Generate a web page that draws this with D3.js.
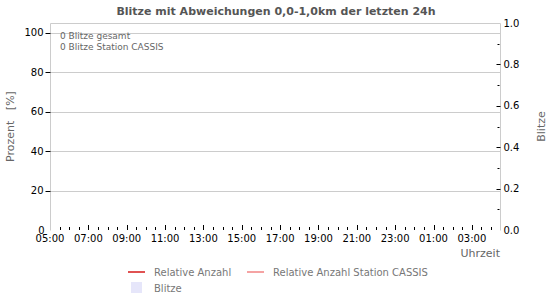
<!DOCTYPE html>
<html>
<head>
<meta charset="utf-8">
<script src="https://cdn.jsdelivr.net/npm/d3@7"></script>
<style>
  body { margin: 0; background: #fff; }
  svg { display: block; font-family: "DejaVu Sans", Verdana, sans-serif; }
</style>
</head>
<body>
<div id="chart"></div>
<script>
// time window (UTC, so the labels stay fixed)
const timeStart = new Date("2024-01-01T05:00:00Z")
const timeEnd = new Date("2024-01-02T04:28:00Z")

// series: no strikes in the window, so all empty
const relAnzahl = []          // [{t, v}] percent
const relAnzahlStation = []   // [{t, v}] percent
const blitze = []             // [{t, v}] count

const leftTicks = [0, 20, 40, 60, 80, 100]
const rightMajor = [0, 0.2, 0.4, 0.6, 0.8, 1.0]
const rightMinor = [0.1, 0.3, 0.5, 0.7, 0.9]

const infoLines = ["0 Blitze gesamt", "0 Blitze Station CASSIS"]
const legendItems = [
  { label: "Relative Anzahl", color: "#e05252", type: "line" },
  { label: "Relative Anzahl Station CASSIS", color: "#f5a3a3", type: "line" },
  { label: "Blitze", color: "#e6e6fa", type: "rect" }
]

const width = 550, height = 300
const margin = { top: 23, right: 50, bottom: 70, left: 50 }
const grid = "#cccccc"

const svg = d3.select("#chart").append("svg")
  .attr("width", width)
  .attr("height", height)

const x = d3.scaleUtc()
  .domain([timeStart, timeEnd])
  .range([margin.left, width - margin.right])

const yL = d3.scaleLinear()
  .domain([0, 105])
  .range([height - margin.bottom, margin.top])

const yR = d3.scaleLinear()
  .domain([0, 1])
  .range([height - margin.bottom, margin.top])

// title
svg.append("text")
  .attr("x", 276)
  .attr("y", 15)
  .attr("text-anchor", "middle")
  .attr("fill", "#555")
  .style("font-size", "11px")
  .style("font-weight", "bold")
  .text("Blitze mit Abweichungen 0,0-1,0km der letzten 24h")

// gridlines
svg.append("g")
  .selectAll("line")
  .data(leftTicks.filter(d => d > 0))
  .enter().append("line")
    .attr("x1", margin.left)
    .attr("x2", width - margin.right)
    .attr("y1", d => Math.round(yL(d)) + 0.5)
    .attr("y2", d => Math.round(yL(d)) + 0.5)
    .attr("stroke", grid)

// frame: top, left, right
const frameTop = margin.top + 0.5
const frameBottom = height - margin.bottom + 0.5
svg.append("path")
  .attr("d", `M${margin.left + 0.5},${frameBottom}V${frameTop}H${width - margin.right + 0.5}V${frameBottom}`)
  .attr("fill", "none")
  .attr("stroke", grid)

// bars (Blitze) – none
svg.append("g")
  .selectAll("rect")
  .data(blitze)
  .enter().append("rect")
    .attr("x", d => x(d.t) - 2)
    .attr("width", 4)
    .attr("y", d => yR(d.v))
    .attr("height", d => yR(0) - yR(d.v))
    .attr("fill", "#e6e6fa")

// lines – none
const line = d3.line().x(d => x(d.t)).y(d => yL(d.v))
svg.append("path").datum(relAnzahl)
  .attr("fill", "none").attr("stroke", legendItems[0].color).attr("stroke-width", 2)
  .attr("d", d => d.length ? line(d) : null)
svg.append("path").datum(relAnzahlStation)
  .attr("fill", "none").attr("stroke", legendItems[1].color).attr("stroke-width", 2)
  .attr("d", d => d.length ? line(d) : null)

// left axis
const gl = svg.append("g").attr("transform", `translate(${margin.left + 0.5},0)`)
gl.selectAll("line")
  .data(leftTicks.filter(d => d > 0))
  .enter().append("line")
    .attr("x1", -5).attr("x2", 0)
    .attr("y1", d => Math.round(yL(d)) + 0.5)
    .attr("y2", d => Math.round(yL(d)) + 0.5)
    .attr("stroke", "#000")
gl.selectAll("text")
  .data(leftTicks)
  .enter().append("text")
    .attr("x", d => d === 0 ? -6 : -7)
    .attr("y", d => yL(d) + 3.5)
    .attr("text-anchor", "end")
    .attr("fill", "#000")
    .style("font-size", "10px")
    .text(d => d)

// right axis
const gr = svg.append("g").attr("transform", `translate(${width - margin.right + 0.5},0)`)
gr.selectAll("line.maj")
  .data(rightMajor.filter(d => d > 0 && d < 1))
  .enter().append("line")
    .attr("x1", -4).attr("x2", 0)
    .attr("y1", d => Math.round(yR(d)) + 0.5)
    .attr("y2", d => Math.round(yR(d)) + 0.5)
    .attr("stroke", "#000")
gr.selectAll("line.min")
  .data(rightMinor)
  .enter().append("line")
    .attr("x1", -3).attr("x2", -1)
    .attr("y1", d => Math.round(yR(d)) + 0.5)
    .attr("y2", d => Math.round(yR(d)) + 0.5)
    .attr("stroke", "#000")
gr.selectAll("text")
  .data(rightMajor)
  .enter().append("text")
    .attr("x", 3)
    .attr("y", d => yR(d) + 3.5)
    .attr("fill", "#000")
    .style("font-size", "10px")
    .text(d => d.toFixed(1))

// x axis ticks (inside, pointing up)
const xb = height - margin.bottom
const isLabelHour = d => d.getUTCMinutes() === 0 && d.getUTCHours() % 2 === 1
const minorTicks = x.ticks(d3.utcMinute.every(30)).filter(d => +d > +timeStart)
svg.append("g")
  .selectAll("line")
  .data(minorTicks)
  .enter().append("line")
    .attr("x1", d => Math.round(x(d)) + 0.5)
    .attr("x2", d => Math.round(x(d)) + 0.5)
    .attr("y1", xb)
    .attr("y2", d => isLabelHour(d) ? xb - 5 : xb - 3)
    .attr("stroke", "#000")

const fmt = d3.utcFormat("%H:%M")
svg.append("g")
  .selectAll("text")
  .data(x.ticks(d3.utcHour.every(1)).filter(isLabelHour))
  .enter().append("text")
    .attr("x", d => x(d))
    .attr("y", xb + 12)
    .attr("text-anchor", "middle")
    .attr("fill", "#000")
    .style("font-size", "10px")
    .text(fmt)

// axis titles
svg.append("text")
  .attr("x", width - margin.right)
  .attr("y", 257)
  .attr("text-anchor", "end")
  .attr("fill", "#666")
  .style("font-size", "11px")
  .text("Uhrzeit")

svg.append("text")
  .attr("transform", `translate(14,${(margin.top + xb) / 2}) rotate(-90)`)
  .attr("text-anchor", "middle")
  .attr("fill", "#666")
  .style("font-size", "11px")
  .style("white-space", "pre")
  .text("Prozent   [%]")

svg.append("text")
  .attr("transform", `translate(545,${(margin.top + xb) / 2}) rotate(-90)`)
  .attr("text-anchor", "middle")
  .attr("fill", "#666")
  .style("font-size", "11px")
  .text("Blitze")

// info text
svg.append("g")
  .selectAll("text")
  .data(infoLines)
  .enter().append("text")
    .attr("x", 60)
    .attr("y", (d, i) => 39 + i * 11)
    .attr("fill", "#666")
    .style("font-size", "9px")
    .text(d => d)

// legend
const legPos = [[128, 272], [247, 272], [128, 288]]
const leg = svg.append("g")
  .selectAll("g")
  .data(legendItems)
  .enter().append("g")
    .attr("transform", (d, i) => `translate(${legPos[i][0]},${legPos[i][1]})`)
leg.filter(d => d.type === "line").append("line")
  .attr("x1", 0).attr("x2", 17)
  .attr("stroke", d => d.color)
  .attr("stroke-width", 2)
leg.filter(d => d.type === "rect").append("rect")
  .attr("x", 3).attr("y", -6)
  .attr("width", 11).attr("height", 11)
  .attr("fill", d => d.color)
leg.append("text")
  .attr("x", 26)
  .attr("y", 4)
  .attr("fill", "#777")
  .style("font-size", "10px")
  .text(d => d.label)
</script>
</body>
</html>
